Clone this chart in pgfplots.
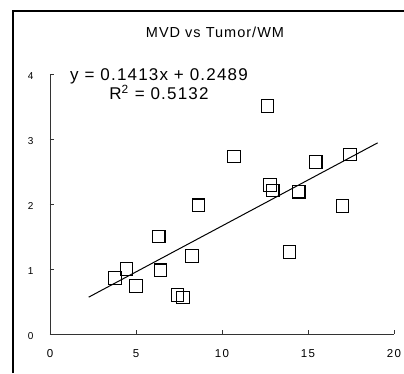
\documentclass[border=0pt]{standalone}
\usepackage{pgfplots}
\pgfplotsset{compat=1.18}
\usepackage{fontspec}
\setmainfont{Liberation Sans}
\newfontfamily\spaced[LetterSpace=7]{Liberation Sans}
\newfontfamily\spacedt[LetterSpace=12]{Liberation Sans}
\begin{document}
\begin{tikzpicture}[x=1pt,y=1pt]
\useasboundingbox (0,0) rectangle (404,373);
\draw[line width=1.6pt] (13,0) -- (13,362) -- (404,362);
\node[font=\fontsize{14.5}{17}\spaced] at (215,341) {MVD vs Tumor/WM};
\node[font=\fontsize{17}{20}\spaced] at (159,296.5) {y = 0.1413x + 0.2489};
\node[font=\fontsize{17}{20}\spaced] at (159,280.5) {R\textsuperscript{2} = 0.5132};
\begin{axis}[
  at={(50pt,39pt)}, anchor=south west,
  scale only axis, width=344pt, height=260pt,
  xmin=0, xmax=20, ymin=0, ymax=4,
  axis x line=bottom, axis y line=left,
  axis line style={-, line width=0.8pt, black!80},
  xtick={0,5,...,20}, ytick={0,1,2,3,4},
  tick align=inside, major tick length=4pt,
  tick style={line width=0.8pt, black!80},
  xticklabel style={font=\fontsize{11.5}{13}\spacedt, yshift=-12pt},
  yticklabel style={font=\fontsize{10}{12}\spacedt, xshift=-13pt, yshift=-2pt},
  /pgf/number format/assume math mode=true,
  clip=false,
]
\addplot[only marks, mark=square, mark size=6.3pt, mark options={line width=1.1pt, black, fill=none}]
coordinates {
(10.7,2.73) (17.44,2.76) (15.45,2.65) (12.79,2.29) (12.95,2.21) (14.46,2.19)
(8.64,1.98) (17.0,1.97) (6.32,1.50) (13.92,1.26) (8.26,1.20) (12.65,3.51)
(3.78,0.86) (4.44,1.00) (5.0,0.74) (6.43,0.98) (7.42,0.60) (7.73,0.56)
};
\addplot[black, line width=1pt] coordinates {(2.25,0.567) (19.05,2.941)};
\end{axis}
\end{tikzpicture}
\end{document}
